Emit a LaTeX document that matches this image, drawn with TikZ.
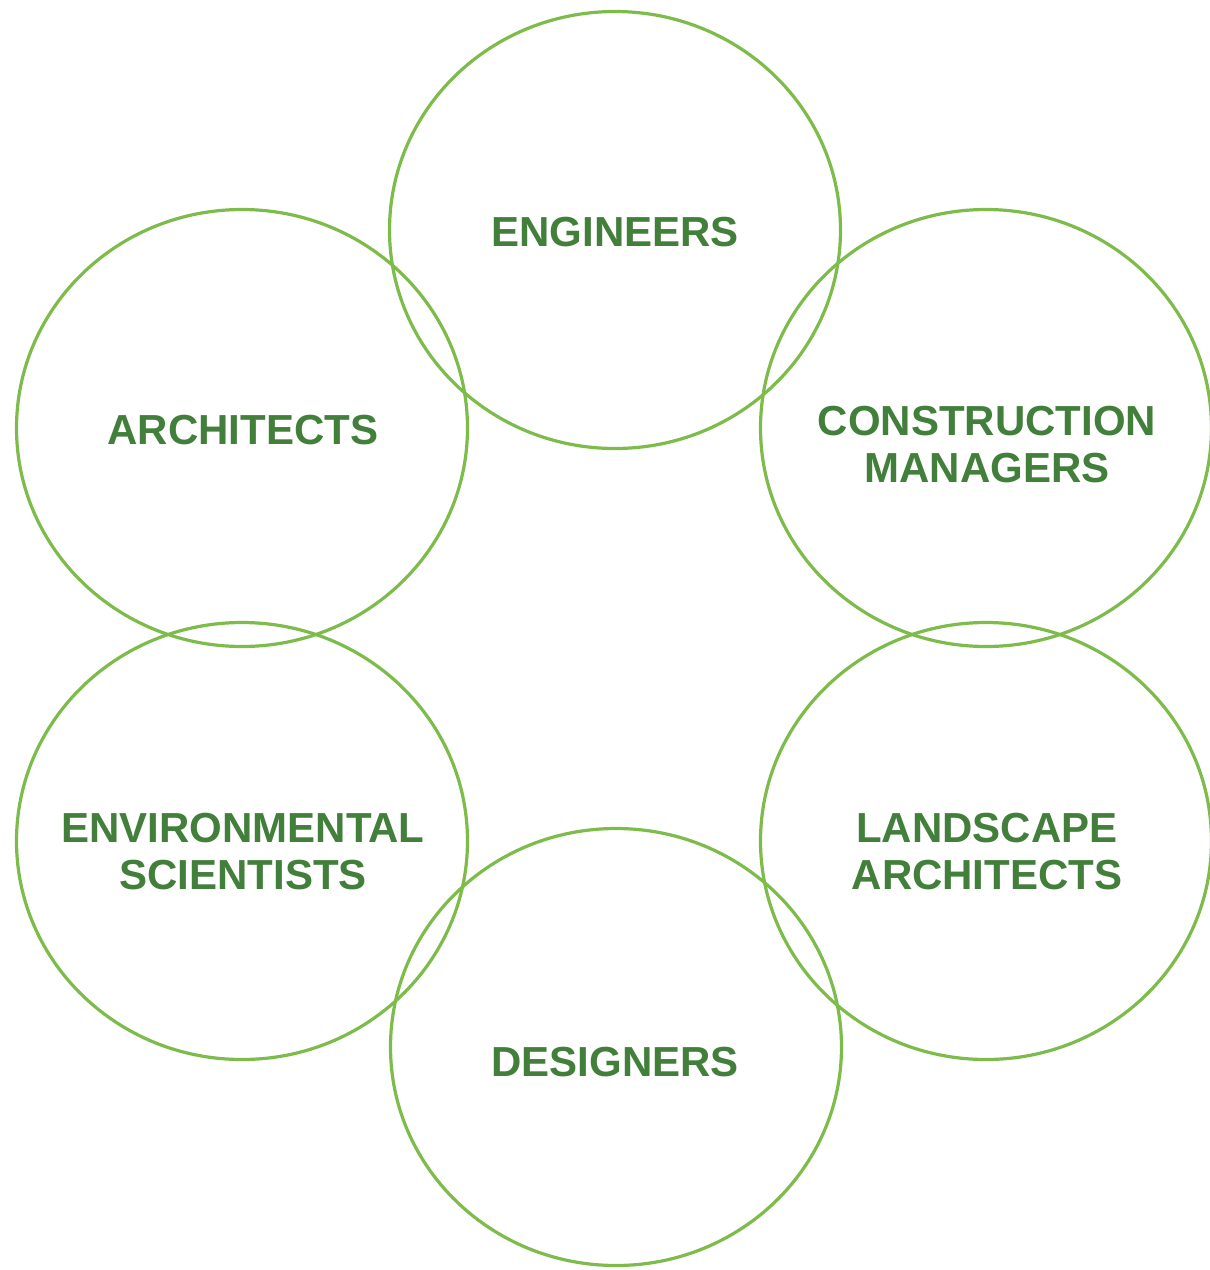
\documentclass[tikz,border=0pt]{standalone}
\usepackage{fontspec}
\usetikzlibrary{shapes.geometric}
\setmainfont{Liberation Sans}
\definecolor{ringgreen}{HTML}{7DBB4A}
\definecolor{textgreen}{HTML}{417F3B}
\begin{document}
\begin{tikzpicture}[x=1pt,y=-1pt,
  ring/.style={ellipse,draw=ringgreen,line width=3.2pt,minimum width=451pt,minimum height=437pt,inner sep=0pt},
  lbl/.style={text=textgreen,font=\fontsize{42}{47}\selectfont\bfseries,align=center}]
\useasboundingbox[fill=white] (0,0) rectangle (1210,1270);
\node[ring] (eng) at (615,230) {};
\node[ring] (arc) at (242,428) {};
\node[ring] (con) at (986,428) {};
\node[ring] (env) at (242,841) {};
\node[ring] (lan) at (986,841) {};
\node[ring] (des) at (616,1047) {};
\node[lbl] (tEng) at (615,232) {ENGINEERS};
\node[lbl] (tArc) at (243,430) {ARCHITECTS};
\node[lbl] (tCon) at (987,445) {CONSTRUCTION\\MANAGERS};
\node[lbl] (tEnv) at (243,852) {ENVIRONMENTAL\\SCIENTISTS};
\node[lbl] (tLan) at (987,852) {LANDSCAPE\\ARCHITECTS};
\node[lbl] (tDes) at (615,1062) {DESIGNERS};
\end{tikzpicture}
\end{document}
